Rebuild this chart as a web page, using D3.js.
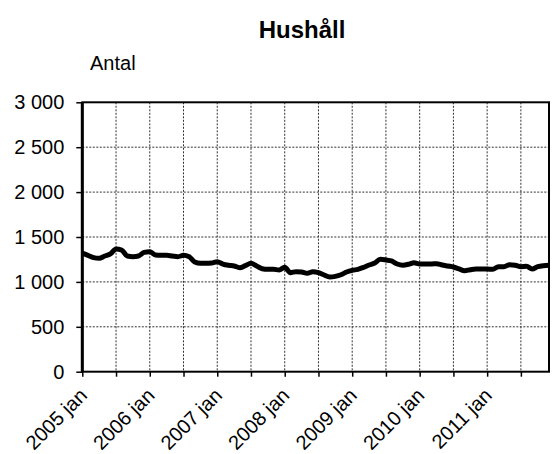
<!DOCTYPE html>
<html><head><meta charset="utf-8">
<script src="https://cdn.jsdelivr.net/npm/d3@7"></script>
<style>body{margin:0;background:#fff}svg{display:block;font-family:"Liberation Sans",Arial,sans-serif}</style>
</head><body><svg id="c" width="552" height="454"></svg>
<script>
const title = "Hushåll";
const yLabel = "Antal";
const years = [2005, 2006, 2007, 2008, 2009, 2010, 2011];
const monthNames = ["jan","feb","mar","apr","maj","jun","jul","aug","sep","okt","nov","dec"];
const yTicks = [0, 500, 1000, 1500, 2000, 2500, 3000];
// monthly values, 2005 jan .. 2011 dec
const values = [
 1320,1296,1270,1262,1288,1311,1366,1355,1288,1281,1288,1329,
 1337,1300,1296,1296,1288,1281,1296,1281,1222,1207,1207,1210,
 1225,1199,1185,1177,1158,1181,1207,1177,1147,1140,1140,1133,
 1162,1103,1114,1110,1095,1114,1103,1077,1055,1062,1080,1110,
 1129,1140,1162,1188,1210,1251,1244,1233,1199,1185,1196,1214,
 1199,1199,1199,1203,1188,1177,1166,1144,1125,1136,1144,1144,
 1144,1140,1170,1170,1192,1185,1170,1173,1144,1170,1181,1185
];
const categories = [];
years.forEach(y => monthNames.forEach(m => categories.push(y + " " + m)));

const svg = d3.select("#c");
const L = 82.3, R = 549, T = 102.3, B = 371.7;
const x = d3.scaleLinear().domain([0, categories.length - 1]).range([L, R]);
const y = d3.scaleLinear().domain([0, 3000]).range([B, T]);
const fmt = v => d3.format(",")(v).replace(/,/g, " ");

// horizontal grid
svg.append("g").selectAll("line").data(yTicks.slice(1, -1)).join("line")
  .attr("x1", L).attr("x2", R).attr("y1", d => y(d)).attr("y2", d => y(d))
  .attr("stroke", "#333").attr("stroke-width", 1).attr("stroke-dasharray", "2,1.5");
// vertical grid every 6 months
const halfYears = d3.range(6, categories.length, 6);
svg.append("g").selectAll("line").data(halfYears).join("line")
  .attr("x1", d => x(d)).attr("x2", d => x(d)).attr("y1", T).attr("y2", B)
  .attr("stroke", "#333").attr("stroke-width", 1).attr("stroke-dasharray", "2,1.5");

// y axis
const yAxis = d3.axisLeft(y).tickValues(yTicks).tickFormat(fmt).tickSize(6).tickPadding(12);
const ga = svg.append("g").attr("transform", `translate(${L},0)`).call(yAxis);
ga.select(".domain").remove();
ga.selectAll(".tick line").attr("stroke", "#000").attr("stroke-width", 1.5);
ga.selectAll(".tick text").attr("font-size", 20).attr("fill", "#000")
  .attr("font-family", "Liberation Sans, Arial, sans-serif");

// x axis ticks every 6 months
const xAxis = d3.axisBottom(x).tickValues(d3.range(0, categories.length, 6)).tickSize(5).tickFormat("");
const gx = svg.append("g").attr("transform", `translate(0,${B})`).call(xAxis);
gx.select(".domain").remove();
gx.selectAll(".tick line").attr("stroke", "#000").attr("stroke-width", 1.5);

// x labels every 12 months
const labelIdx = d3.range(0, categories.length, 12);
svg.append("g").selectAll("text").data(labelIdx).join("text")
  .attr("transform", d => `translate(${x(d) + 6},${B + 25}) rotate(-45)`)
  .attr("text-anchor", "end").attr("font-size", 20).attr("fill", "#000")
  .text(d => categories[d]);

// frame
svg.append("rect").attr("x", L).attr("y", T).attr("width", R - L).attr("height", B - T)
  .attr("fill", "none").attr("stroke", "#000").attr("stroke-width", 2);
svg.append("line").attr("x1", L).attr("x2", L).attr("y1", T).attr("y2", B)
  .attr("stroke", "#000").attr("stroke-width", 3);

// line
const line = d3.line().x((d, i) => x(i)).y(d => y(d)).curve(d3.curveMonotoneX);
svg.append("path").datum(values).attr("d", line).attr("fill", "none")
  .attr("stroke", "#000").attr("stroke-width", 5).attr("stroke-linejoin", "round").attr("stroke-linecap", "butt");

// titles
svg.append("text").attr("x", 302).attr("y", 38).attr("text-anchor", "middle")
  .attr("font-size", 24).attr("font-weight", "bold").text(title);
svg.append("text").attr("x", 90).attr("y", 69.5).attr("font-size", 20).text(yLabel);
</script></body></html>
